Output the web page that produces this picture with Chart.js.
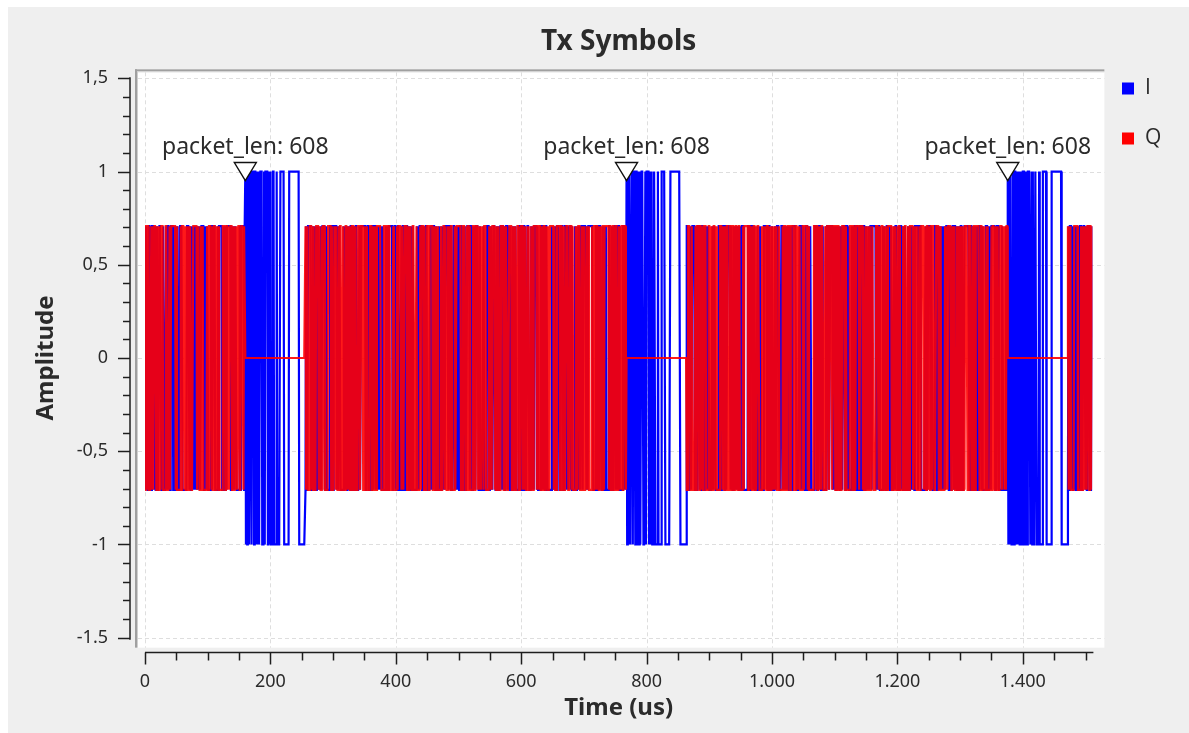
<!DOCTYPE html>
<html>
<head>
<meta charset="utf-8">
<title>Tx Symbols</title>
<script src="https://cdn.jsdelivr.net/npm/chart.js@4.4.0/dist/chart.umd.min.js"></script>
<style>
  html, body { margin: 0; padding: 0; background: #fff; }
  canvas { display: block; }
</style>
</head>
<body>
<canvas id="scope" width="1189" height="733"></canvas>
<script>
/**************************
* Data
**************************/

// stream tags (us) and the text they carry
var tagTimes = [160, 768, 1376]
var tagLabel = 'packet_len: 608'

// BPSK header on I only: access code, then the length field
var headerBits = '1010110011011101101001001110001011110010100011000010000011111100' +
	'000000' + '1111111111111111' + '0000000000'

// QPSK payload bits in hex, in transmit order
// (tail of the previous packet, packet 1, packet 2, start of packet 3)
var payloadI = [
	'b35e91c62d7a48f01e96a53cd8670be25f94c17d',
	'4f8a2c9e61b7d3054ac8e27f19b36d50' + 'a7e31c58f4902bd6c16e8a35f70d4b92' +
	'3d96f2087ace51b4e4290f6c38d7a1b5' + 'c05b79e3a68214df5fe1b7290c46d83a',
	'e2793ad5b04c18f67d95a2e03bc8461f' + '58c6f1a9247e0db3960f5c82e7a4d13b' +
	'a14d8e7326fcb059d3172ea84b6f9c05' + '7b0e5293c8da461fe6a93d072bf5c184',
	'5d2a9c74e1'
]
var payloadQ = [
	'6c29d4b8713fa05e92c7e6481bd35a0f74e9263b',
	'91d47b2e0fa3658cd2b90e74a1c53f86' + 'e6082fb3d59c417a3be4508d96c27f1e' +
	'5a1ce93706bd48f2c79a32e5108fb64d' + '2bf47d90e3a15c68904ed2b7f6318ace',
	'3c82f65e1a9d07b4c6e3582fd91a70b6' + 'd4a9105c7be3286fa01d95c4e73b68f2' +
	'0f6be7a248c3d5917e28b06c4f9a13d5' + '96e3c40b7d5128af3cb7e69102d48e6b',
	'a83f06b5d9'
]

var nSamples = 1512
var qpskLevel = 0.7071

// axes
var xTicks = [0, 200, 400, 600, 800, 1000, 1200, 1400]
var xTickLabels = ['0', '200', '400', '600', '800', '1.000', '1.200', '1.400']
var xMinorStep = 50
var yTicks = [-1.5, -1, -0.5, 0, 0.5, 1, 1.5]
var yTickLabels = ['-1.5', '-1', '-0,5', '0', '0,5', '1', '1,5']
var yMinorStep = 0.1

/**************************
* Build the sample streams
**************************/

function hexBits(segs) {
	var s = ''
	segs.forEach(function (h) {
		for (var i = 0; i < h.length; i++) s += parseInt(h[i], 16).toString(2).padStart(4, '0')
	})
	return s
}

var bitsI = hexBits(payloadI)
var bitsQ = hexBits(payloadQ)
var pointsI = [], pointsQ = []
var k = 0
for (var t = 0; t < nSamples; t++) {
	var h = -1
	tagTimes.forEach(function (tag) { if (t >= tag && t < tag + headerBits.length) h = t - tag })
	if (h >= 0) {
		pointsI.push({x: t, y: headerBits[h] === '1' ? 1 : -1})
		pointsQ.push({x: t, y: 0})
	} else {
		pointsI.push({x: t, y: bitsI[k] === '1' ? qpskLevel : -qpskLevel})
		pointsQ.push({x: t, y: bitsQ[k] === '1' ? qpskLevel : -qpskLevel})
		k++
	}
}

/**************************
* Frame, grid, axes, tags
**************************/

var FONT = '"Noto Sans", sans-serif'
var INK = '#2b2b2b'

var scopeDecor = {
	id: 'scopeDecor',
	beforeDraw: function (chart) {
		var ctx = chart.ctx, a = chart.chartArea
		var x = chart.scales.x, y = chart.scales.y
		ctx.save()
		ctx.fillStyle = '#fff'
		ctx.fillRect(0, 0, chart.width, chart.height)
		ctx.fillStyle = '#efefef'
		ctx.fillRect(8, 7, chart.width - 8, chart.height - 7)

		// plot canvas with a sunken frame
		var L = a.left - 10, T = a.top - 9, R = a.right + 12, B = a.bottom + 10
		ctx.fillStyle = '#fff'
		ctx.fillRect(L, T, R - L, B - T)
		ctx.fillStyle = '#a0a0a0'
		ctx.fillRect(L, T, R - L, 2)
		ctx.fillRect(L, T, 2, B - T)
		ctx.fillStyle = '#cfcfcf'
		ctx.fillRect(L + 2, T + 2, R - L - 2, 1)
		ctx.fillRect(L + 2, T + 2, 1, B - T - 2)

		// dashed grid at the major ticks
		ctx.strokeStyle = '#dedede'
		ctx.lineWidth = 1
		ctx.setLineDash([4, 3])
		xTicks.forEach(function (v) {
			var px = Math.round(x.getPixelForValue(v)) + 0.5
			ctx.beginPath(); ctx.moveTo(px, T + 3); ctx.lineTo(px, B); ctx.stroke()
		})
		yTicks.forEach(function (v) {
			var py = Math.round(y.getPixelForValue(v)) + 0.5
			ctx.beginPath(); ctx.moveTo(L + 3, py); ctx.lineTo(R, py); ctx.stroke()
		})
		ctx.restore()
	},
	afterDatasetsDraw: function (chart) {
		var ctx = chart.ctx
		var x = chart.scales.x, y = chart.scales.y
		ctx.save()
		tagTimes.forEach(function (tag) {
			var px = x.getPixelForValue(tag)
			var py = y.getPixelForValue(pointsI[tag].y)
			ctx.beginPath()
			ctx.moveTo(px - 11, py - 9)
			ctx.lineTo(px + 11, py - 9)
			ctx.lineTo(px, py + 9)
			ctx.closePath()
			ctx.fillStyle = '#fff'
			ctx.fill()
			ctx.strokeStyle = '#111'
			ctx.lineWidth = 1.4
			ctx.stroke()
			ctx.fillStyle = INK
			ctx.font = '23px ' + FONT
			ctx.textAlign = 'center'
			ctx.textBaseline = 'alphabetic'
			ctx.fillText(tagLabel, px, py - 18)
		})
		ctx.restore()
	},
	afterDraw: function (chart) {
		var ctx = chart.ctx, a = chart.chartArea
		var x = chart.scales.x, y = chart.scales.y
		ctx.save()
		ctx.strokeStyle = '#1e1e1e'
		ctx.fillStyle = INK
		ctx.lineWidth = 1.5

		// y axis, ticks pointing left
		var ax = 130
		ctx.beginPath(); ctx.moveTo(ax, y.getPixelForValue(1.5) - 1); ctx.lineTo(ax, y.getPixelForValue(-1.5) + 2); ctx.stroke()
		for (var v = -1.5; v <= 1.5001; v += yMinorStep) {
			var py = Math.round(y.getPixelForValue(v)) + 0.5
			var major = Math.abs(v * 2 - Math.round(v * 2)) < 1e-6
			ctx.beginPath(); ctx.moveTo(ax, py); ctx.lineTo(ax - (major ? 12 : 7), py); ctx.stroke()
		}
		ctx.font = '18px ' + FONT
		ctx.textAlign = 'right'
		ctx.textBaseline = 'middle'
		yTicks.forEach(function (v, i) {
			ctx.fillText(yTickLabels[i], 108, y.getPixelForValue(v))
		})

		// x axis, ticks pointing down
		var ay = 652.5
		ctx.beginPath(); ctx.moveTo(x.getPixelForValue(0), ay); ctx.lineTo(x.getPixelForValue(x.max) + 1, ay); ctx.stroke()
		for (var u = 0; u <= x.max; u += xMinorStep) {
			var px = Math.round(x.getPixelForValue(u)) + 0.5
			var maj = xTicks.indexOf(u) >= 0
			ctx.beginPath(); ctx.moveTo(px, ay); ctx.lineTo(px, ay + (maj ? 12 : 8)); ctx.stroke()
		}
		ctx.textAlign = 'center'
		xTicks.forEach(function (v, i) {
			ctx.fillText(xTickLabels[i], x.getPixelForValue(v), 682)
		})

		// titles
		var mid = (a.left + a.right) / 2
		ctx.font = 'bold 24px ' + FONT
		ctx.fillText('Time (us)', mid, 708)
		ctx.save()
		ctx.translate(46, (a.top + a.bottom) / 2)
		ctx.rotate(-Math.PI / 2)
		ctx.fillText('Amplitude', 0, 0)
		ctx.restore()
		ctx.font = 'bold 28px ' + FONT
		ctx.fillText('Tx Symbols', mid, 42)

		// legend
		ctx.font = '21px "Open Sans", sans-serif'
		ctx.textAlign = 'left'
		chart.data.datasets.slice().sort(function (p, q) { return p.legendIndex - q.legendIndex }).forEach(function (ds, i) {
			var cy = 88.5 + i * 50
			ctx.fillStyle = ds.legendColor
			ctx.fillRect(1122, cy - 6, 12, 12)
			ctx.fillStyle = INK
			ctx.fillText(ds.label, 1145, cy)
		})
		ctx.restore()
	}
}

/*
* Chart definition
*/
var chart = new Chart(document.getElementById('scope'), {
	type: 'line',
	data: {
		datasets: [
			// Q first so it is painted over I
			{label: 'Q', legendIndex: 1, legendColor: '#ff0000', data: pointsQ, borderColor: 'rgba(255,0,0,0.9)', borderWidth: 2.2, pointRadius: 0, tension: 0},
			{label: 'I', legendIndex: 0, legendColor: '#0000ff', data: pointsI, borderColor: '#0000ff', borderWidth: 2.2, pointRadius: 0, tension: 0}
		]
	},
	options: {
		responsive: false,
		animation: false,
		events: [],
		parsing: false,
		normalized: true,
		layout: {padding: {left: 145, top: 78.3, right: 96.6, bottom: 95.3}},
		scales: {
			x: {type: 'linear', min: 0, max: nSamples - 1, display: false},
			y: {type: 'linear', min: -1.5, max: 1.5, display: false}
		},
		plugins: {
			legend: {display: false},
			title: {display: false},
			tooltip: {enabled: false}
		}
	},
	plugins: [scopeDecor]
})
</script>
</body>
</html>
